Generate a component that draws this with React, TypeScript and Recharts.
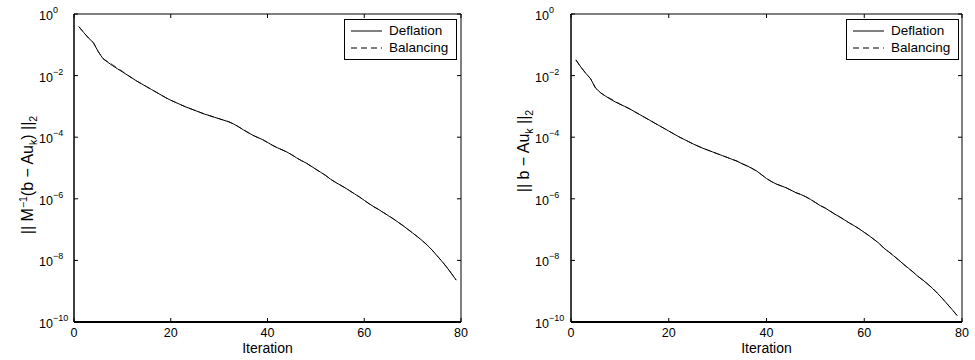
import { LineChart, Line, XAxis, YAxis, Legend, ReferenceArea } from 'recharts';

// log10 of the residual norm at each iteration (1..79)
const iterations = Array.from({ length: 79 }, (_, i) => i + 1);

const precondDeflationExp = [
  -0.41, -0.6, -0.78, -0.93, -1.22, -1.45, -1.57, -1.68, -1.78, -1.88,
  -1.98, -2.08, -2.18, -2.27, -2.36, -2.45, -2.54, -2.63, -2.72, -2.8,
  -2.87, -2.94, -3.01, -3.07, -3.13, -3.19, -3.25, -3.3, -3.35, -3.4,
  -3.45, -3.5, -3.57, -3.66, -3.76, -3.85, -3.94, -4.01, -4.08, -4.17,
  -4.26, -4.34, -4.41, -4.48, -4.57, -4.67, -4.76, -4.84, -4.94, -5.04,
  -5.14, -5.24, -5.36, -5.46, -5.55, -5.64, -5.74, -5.84, -5.94, -6.05,
  -6.16, -6.26, -6.35, -6.45, -6.55, -6.65, -6.76, -6.87, -6.99, -7.11,
  -7.23, -7.36, -7.5, -7.66, -7.84, -8.02, -8.21, -8.42, -8.64,
];

const precondBalancingExp = [
  -0.41, -0.6, -0.78, -0.93, -1.22, -1.45, -1.55, -1.65, -1.76, -1.86,
  -1.97, -2.08, -2.18, -2.27, -2.36, -2.45, -2.54, -2.63, -2.72, -2.8,
  -2.87, -2.94, -3.01, -3.07, -3.13, -3.19, -3.25, -3.3, -3.35, -3.4,
  -3.45, -3.5, -3.57, -3.66, -3.76, -3.85, -3.94, -4.01, -4.08, -4.17,
  -4.26, -4.34, -4.41, -4.48, -4.57, -4.67, -4.76, -4.84, -4.94, -5.04,
  -5.14, -5.24, -5.36, -5.46, -5.55, -5.64, -5.74, -5.84, -5.94, -6.05,
  -6.16, -6.26, -6.35, -6.45, -6.55, -6.65, -6.76, -6.87, -6.99, -7.11,
  -7.23, -7.36, -7.5, -7.66, -7.84, -8.02, -8.21, -8.42, -8.64,
];

const trueDeflationExp = [
  -1.49, -1.72, -1.92, -2.1, -2.4, -2.55, -2.66, -2.76, -2.85, -2.93,
  -3.0, -3.08, -3.17, -3.26, -3.35, -3.44, -3.53, -3.62, -3.71, -3.8,
  -3.89, -3.98, -4.06, -4.14, -4.22, -4.29, -4.36, -4.42, -4.48, -4.54,
  -4.6, -4.66, -4.72, -4.78, -4.86, -4.93, -5.01, -5.1, -5.22, -5.34,
  -5.44, -5.52, -5.58, -5.64, -5.72, -5.8, -5.86, -5.93, -6.02, -6.12,
  -6.22, -6.3, -6.4, -6.5, -6.59, -6.69, -6.79, -6.88, -6.98, -7.09,
  -7.2, -7.32, -7.44, -7.6, -7.72, -7.85, -7.98, -8.12, -8.25, -8.38,
  -8.52, -8.64, -8.77, -8.91, -9.07, -9.24, -9.42, -9.6, -9.79,
];

const trueBalancingExp = [
  -1.49, -1.72, -1.92, -2.1, -2.4, -2.55, -2.66, -2.74, -2.83, -2.92,
  -3.0, -3.08, -3.17, -3.26, -3.35, -3.44, -3.53, -3.62, -3.71, -3.8,
  -3.89, -3.98, -4.06, -4.14, -4.22, -4.29, -4.36, -4.42, -4.48, -4.54,
  -4.6, -4.66, -4.72, -4.78, -4.86, -4.93, -5.01, -5.1, -5.22, -5.34,
  -5.44, -5.52, -5.58, -5.64, -5.72, -5.8, -5.86, -5.93, -6.02, -6.12,
  -6.22, -6.3, -6.4, -6.5, -6.59, -6.69, -6.79, -6.88, -6.98, -7.09,
  -7.2, -7.32, -7.44, -7.6, -7.72, -7.85, -7.98, -8.12, -8.25, -8.38,
  -8.52, -8.64, -8.77, -8.91, -9.07, -9.24, -9.42, -9.6, -9.79,
];

const xTicks = [0, 20, 40, 60, 80];
const yTicks = [1e-10, 1e-8, 1e-6, 1e-4, 1e-2, 1];

const FONT = '"Liberation Sans", Arial, Helvetica, sans-serif';
const PLOT_TOP = 14;
const PLOT_BOTTOM = 322;
const TICK_LEN = 4;

const toRows = (defl: number[], bal: number[]) =>
  iterations.map((it, i) => ({ it, deflation: 10 ** defl[i], balancing: 10 ** bal[i] }));

const leftRows = toRows(precondDeflationExp, precondBalancingExp);
const rightRows = toRows(trueDeflationExp, trueBalancingExp);

// x tick: label below plus inward marks on bottom and top edges
function IterTick(props: any) {
  const { x, payload } = props;
  return (
    <g>
      <line x1={x} x2={x} y1={PLOT_BOTTOM} y2={PLOT_BOTTOM - TICK_LEN} stroke="#000" />
      <line x1={x} x2={x} y1={PLOT_TOP} y2={PLOT_TOP + TICK_LEN} stroke="#000" />
      <text x={x} y={PLOT_BOTTOM + 15} textAnchor="middle" fontSize={12.5} fontFamily={FONT} fill="#000">
        {payload.value}
      </text>
    </g>
  );
}

// y tick: 10^n label plus inward marks on left and right edges
function PowerTick(props: any) {
  const { y, payload, left, right, labelX } = props;
  const exp = Math.round(Math.log10(payload.value));
  const expText = exp < 0 ? `\u2212${-exp}` : `${exp}`;
  return (
    <g>
      <line x1={left} x2={left + TICK_LEN} y1={y} y2={y} stroke="#000" />
      <line x1={right} x2={right - TICK_LEN} y1={y} y2={y} stroke="#000" />
      <text x={labelX} y={y + 6} fontSize={12.5} fontFamily={FONT} fill="#000">
        10
        <tspan dy={-7} fontSize={9}>{expText}</tspan>
      </text>
    </g>
  );
}

function BoxLegend() {
  const rows = [
    { name: 'Deflation', dash: undefined },
    { name: 'Balancing', dash: '6 4' },
  ];
  return (
    <div
      style={{
        position: 'relative',
        width: 111,
        height: 39,
        border: '1px solid #000',
        background: '#fff',
        fontFamily: FONT,
        fontSize: 13.5,
        color: '#000',
      }}
    >
      {rows.map((r, i) => (
        <div key={r.name} style={{ position: 'absolute', left: 0, top: 2 + i * 17, height: 17, width: 111 }}>
          <svg width={40} height={17} style={{ position: 'absolute', left: 0, top: 0 }}>
            <line x1={6} x2={37} y1={9} y2={9} stroke="#000" strokeWidth={1} strokeDasharray={r.dash} />
          </svg>
          <span style={{ position: 'absolute', left: 44, top: 0, lineHeight: '17px', whiteSpace: 'nowrap' }}>
            {r.name}
          </span>
        </div>
      ))}
    </div>
  );
}

function ResidualPanel(props: {
  rows: any[];
  width: number;
  plotLeft: number;
  plotRight: number;
  labelX: number;
  legendLeft: number;
  title: (cx: number, cy: number) => any;
  titleX: number;
  titleY: number;
}) {
  const { rows, width, plotLeft, plotRight, labelX, legendLeft, title, titleX, titleY } = props;
  return (
    <LineChart
      width={width}
      height={360}
      data={rows}
      margin={{ top: PLOT_TOP, right: width - plotRight, bottom: 0, left: 0 }}
    >
      <XAxis
        dataKey="it"
        type="number"
        domain={[0, 80]}
        ticks={xTicks}
        height={360 - PLOT_BOTTOM}
        tickLine={false}
        axisLine={{ stroke: '#000', strokeWidth: 1.8 }}
        tick={<IterTick />}
        label={{
          value: 'Iteration',
          position: 'insideBottom',
          offset: 7,
          fill: '#000',
          fontSize: 14,
          fontFamily: FONT,
        }}
      />
      <YAxis
        type="number"
        scale="log"
        domain={[1e-10, 1]}
        ticks={yTicks}
        allowDataOverflow
        width={plotLeft}
        tickLine={false}
        axisLine={{ stroke: '#000', strokeWidth: 1 }}
        tick={<PowerTick left={plotLeft} right={plotRight} labelX={labelX} />}
        label={() => title(titleX, titleY)}
      />
      <ReferenceArea x1={0} x2={80} y1={1e-10} y2={1} fill="none" stroke="#000" strokeWidth={1} />
      <Line
        dataKey="balancing"
        name="Balancing"
        stroke="#444"
        strokeWidth={1}
        strokeDasharray="6 4"
        dot={false}
        isAnimationActive={false}
      />
      <Line
        dataKey="deflation"
        name="Deflation"
        stroke="#000"
        strokeWidth={1}
        dot={false}
        isAnimationActive={false}
      />
      <Legend
        layout="horizontal"
        verticalAlign="middle"
        align="center"
        content={<BoxLegend />}
        wrapperStyle={{ left: legendLeft, top: 19, width: 'auto', height: 'auto' }}
      />
    </LineChart>
  );
}

const sub = { fontSize: 10.5 };

function precondTitle(cx: number, cy: number) {
  return (
    <text
      x={cx}
      y={cy}
      transform={`rotate(-90, ${cx}, ${cy})`}
      textAnchor="middle"
      fontSize={16}
      fontFamily={FONT}
      fill="#000"
    >
      || M
      <tspan dy={-6} {...sub}>{'\u22121'}</tspan>
      <tspan dy={6}>(b {'\u2212'} Au</tspan>
      <tspan dy={4} {...sub}>k</tspan>
      <tspan dy={-4}>) ||</tspan>
      <tspan dy={4} {...sub}>2</tspan>
    </text>
  );
}

function trueTitle(cx: number, cy: number) {
  return (
    <text
      x={cx}
      y={cy}
      transform={`rotate(-90, ${cx}, ${cy})`}
      textAnchor="middle"
      fontSize={16}
      fontFamily={FONT}
      fill="#000"
    >
      || b {'\u2212'} Au<tspan dy={4} {...sub}>k</tspan>
      <tspan dy={-4}> ||</tspan>
      <tspan dy={4} {...sub}>2</tspan>
    </text>
  );
}

export default function App() {
  return (
    <div style={{ position: 'absolute', left: 0, top: 0, width: 975, height: 360, background: '#fff' }}>
      <div style={{ position: 'absolute', left: 0, top: 0 }}>
        <ResidualPanel
          rows={leftRows}
          width={487}
          plotLeft={74}
          plotRight={461}
          labelX={39}
          legendLeft={344}
          title={precondTitle}
          titleX={33}
          titleY={175}
        />
      </div>
      <div style={{ position: 'absolute', left: 487, top: 0 }}>
        <ResidualPanel
          rows={rightRows}
          width={488}
          plotLeft={84}
          plotRight={475}
          labelX={48}
          legendLeft={359}
          title={trueTitle}
          titleX={42}
          titleY={151}
        />
      </div>
    </div>
  );
}
